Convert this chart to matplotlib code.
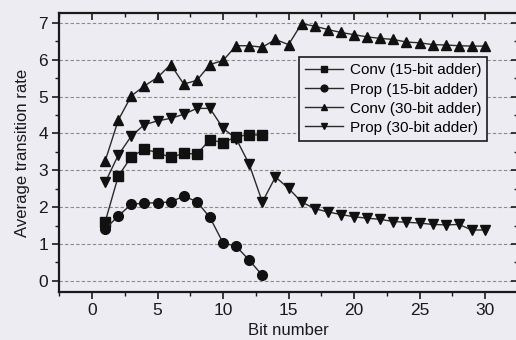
import matplotlib
matplotlib.use("Agg")
import matplotlib.pyplot as plt
from matplotlib.ticker import MultipleLocator

plt.rcParams['font.family'] = ['Liberation Sans', 'DejaVu Sans']

bits15 = list(range(1, 14))
bits30 = list(range(1, 31))

conv15 = [1.60, 2.84, 3.37, 3.57, 3.48, 3.35, 3.46, 3.44, 3.83, 3.75, 3.91, 3.97, 3.95]
prop15 = [1.41, 1.76, 2.08, 2.11, 2.12, 2.14, 2.30, 2.15, 1.72, 1.03, 0.94, 0.56, 0.15]
conv30 = [3.25, 4.36, 5.02, 5.29, 5.52, 5.87, 5.34, 5.44, 5.87, 5.98,
          6.38, 6.38, 6.34, 6.55, 6.41, 6.98, 6.91, 6.82, 6.74, 6.68,
          6.62, 6.58, 6.55, 6.48, 6.46, 6.41, 6.40, 6.38, 6.37, 6.37]
prop30 = [2.67, 3.41, 3.93, 4.24, 4.34, 4.41, 4.52, 4.68, 4.68, 4.14,
          3.86, 3.16, 2.14, 2.82, 2.51, 2.14, 1.96, 1.87, 1.80, 1.74,
          1.70, 1.67, 1.61, 1.59, 1.57, 1.53, 1.52, 1.53, 1.38, 1.38]

labels = ["Conv (15-bit adder)", "Prop (15-bit adder)",
          "Conv (30-bit adder)", "Prop (30-bit adder)"]

bg = '#ECECF2'
fig = plt.figure(figsize=(5.16, 3.40), dpi=100, facecolor=bg)
W, H = 516, 340
ax = fig.add_axes([59.3 / W, 1 - 292.3 / H, (517.8 - 59.3) / W, (292.3 - 13.3) / H])
ax.set_facecolor(bg)

lc = '#2a2a2a'
kw = dict(color=lc, lw=1.0, markersize=7, markeredgecolor='#111111', markerfacecolor='#111111')
ax.plot(bits15, conv15, marker='s', label=labels[0], **kw)
ax.plot(bits15, prop15, marker='o', label=labels[1], **kw)
ax.plot(bits30, conv30, marker='^', label=labels[2], **kw)
ax.plot(bits30, prop30, marker='v', label=labels[3], **kw)

ax.set_xlim(-2.5, 32.5)
ax.set_ylim(-0.31, 7.26)
ax.xaxis.set_major_locator(MultipleLocator(5))
ax.xaxis.set_minor_locator(MultipleLocator(2.5))
ax.yaxis.set_major_locator(MultipleLocator(1))
ax.yaxis.set_minor_locator(MultipleLocator(0.5))

ax.yaxis.grid(True, which='major', color='#8a8a8a', linestyle=(0, (3, 2)), lw=0.8)
ax.set_axisbelow(True)

for s in ax.spines.values():
    s.set_linewidth(1.6)
    s.set_color('#1a1a1a')

ax.tick_params(axis='both', which='major', direction='out', length=5, width=1.2,
               labelsize=12.5, colors='#1a1a1a', pad=3)
ax.tick_params(axis='both', which='minor', direction='out', length=3, width=1.0, colors='#1a1a1a')
ax.tick_params(top=True, right=True, which='both')
for t in ax.xaxis.get_major_ticks() + ax.xaxis.get_minor_ticks():
    t.tick2line.set_marker(3)  # inward from top
for t in ax.yaxis.get_major_ticks() + ax.yaxis.get_minor_ticks():
    t.tick2line.set_marker(0)

ax.set_xlabel("Bit number", fontsize=12, color='#1a1a1a', labelpad=3)
ax.set_ylabel("Average transition rate", fontsize=12, color='#1a1a1a', labelpad=6)

leg = ax.legend(loc='upper left', bbox_to_anchor=(0.523, 0.842),
                fontsize=11, frameon=True, fancybox=False, edgecolor='#1a1a1a',
                facecolor=bg, framealpha=1, handlelength=2.5, markerscale=0.7,
                borderpad=0.4, labelspacing=0.33, handletextpad=0.4, borderaxespad=0)
leg.get_frame().set_linewidth(1.2)

fig.savefig("out.png", dpi=100, facecolor=bg)
